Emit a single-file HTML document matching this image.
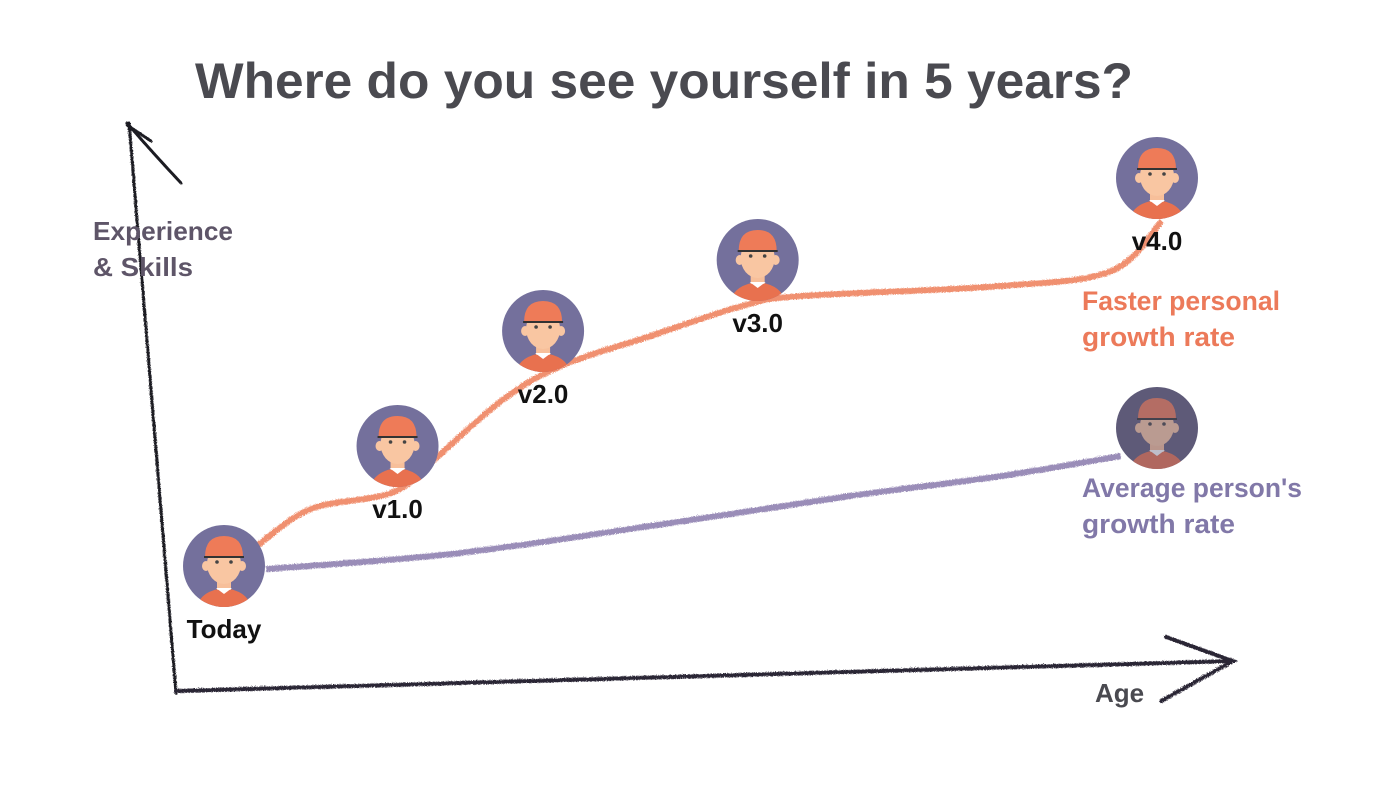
<!DOCTYPE html>
<html><head><meta charset="utf-8"><style>
body{margin:0;background:#fff}
svg{display:block}
text{font-family:"Liberation Sans",sans-serif;font-weight:bold}
</style></head><body>
<svg id="chart" width="1400" height="788" viewBox="0 0 1400 788">
<defs>
<filter id="rough"><feTurbulence baseFrequency="0.9" numOctaves="1" result="n"/><feDisplacementMap in="SourceGraphic" in2="n" scale="3"/></filter>
</defs>
<text x="195" y="98" textLength="938" lengthAdjust="spacingAndGlyphs" font-size="50" fill="#4a4a50">Where do you see yourself in 5 years?</text>
<g stroke="#1a1a22" stroke-width="3" fill="none" stroke-linecap="round" filter="url(#rough)">
<path d="M175 692 L128 122"/><path d="M126 122 Q150 150 180 182 M126 124 L150 140"/>
</g>
<g stroke="#2a2535" stroke-width="4" fill="none" stroke-linecap="round" filter="url(#rough)">
<path d="M175 690 Q700 675 1232 660"/><path d="M1165 636 L1232 660 L1160 700"/>
</g>
<text x="93" y="240" textLength="140" lengthAdjust="spacingAndGlyphs" font-size="26" fill="#5e5568">Experience</text>
<text x="93" y="276" textLength="100" lengthAdjust="spacingAndGlyphs" font-size="26" fill="#5e5568">&amp; Skills</text>
<text x="1095" y="702" font-size="26" fill="#4a4a50">Age</text>
<g id="lines"></g>
<g id="avatars"></g>
<text x="1082" y="310" textLength="198" lengthAdjust="spacingAndGlyphs" font-size="27" fill="#ec7a5a">Faster personal</text>
<text x="1082" y="346" textLength="153" lengthAdjust="spacingAndGlyphs" font-size="27" fill="#ec7a5a">growth rate</text>
<text x="1082" y="497" textLength="220" lengthAdjust="spacingAndGlyphs" font-size="27" fill="#8178a8">Average person's</text>
<text x="1082" y="533" textLength="153" lengthAdjust="spacingAndGlyphs" font-size="27" fill="#8178a8">growth rate</text>
</svg>
<script>
const fastYears=[0.17,0.46,0.89,1.1,1.48,1.8,2.28,2.77,3.09,4.16,4.75,5.02];
const fastSkill=[2.9,3.64,3.96,4.56,5.8,6.5,7.1,7.7,7.9,8.1,8.4,9.4];
const avgYears=[0.22,1.21,2.28,3.35,4.16,4.8];
const avgSkill=[2.44,2.74,3.3,3.9,4.3,4.7];
const milestoneLabels=["Today","v1.0","v2.0","v3.0","v4.0",""];
const milestoneYears=[0,0.93,1.71,2.86,5,5];
const milestoneSkill=[2.48,4.88,7.18,8.6,10.24,5.24];
const NS="http://www.w3.org/2000/svg";
function xS(y){return 224+y*186.6;}
function yS(s){return 690-s*50;}
function smooth(xs,ys){
  const p=xs.map((x,i)=>[xS(x),yS(ys[i])]);
  let d="M"+p[0][0]+" "+p[0][1];
  for(let i=0;i<p.length-1;i++){
    const p0=p[i-1]||p[i],p1=p[i],p2=p[i+1],p3=p[i+2]||p2;
    const c1=[p1[0]+(p2[0]-p0[0])/6,p1[1]+(p2[1]-p0[1])/6];
    const c2=[p2[0]-(p3[0]-p1[0])/6,p2[1]-(p3[1]-p1[1])/6];
    d+=` C${c1[0]} ${c1[1]} ${c2[0]} ${c2[1]} ${p2[0]} ${p2[1]}`;
  }
  return d;
}
const lines=document.getElementById("lines");
const l1=document.createElementNS(NS,"path");


l1.setAttribute("d",smooth(fastYears,fastSkill));
l1.setAttribute("stroke","#f09070");l1.setAttribute("stroke-width","6");l1.setAttribute("fill","none");l1.setAttribute("filter","url(#rough)");
lines.appendChild(l1);
const l2=document.createElementNS(NS,"path");


l2.setAttribute("d",smooth(avgYears,avgSkill));
l2.setAttribute("stroke","#9a8db8");l2.setAttribute("stroke-width","6");l2.setAttribute("fill","none");l2.setAttribute("filter","url(#rough)");
lines.appendChild(l2);
const av=document.getElementById("avatars");
milestoneYears.forEach((yr,i)=>{
  const cx=xS(yr),cy=yS(milestoneSkill[i]);
  const faded=i===5;
  const g=document.createElementNS(NS,"g");
  
  
  g.innerHTML=`<circle cx="${cx}" cy="${cy}" r="41" fill="${faded?'#5e5a78':'#74709c'}"/>
  <clipPath id="c${i}"><circle cx="${cx}" cy="${cy}" r="41"/></clipPath>
  <g clip-path="url(#c${i})" opacity="${faded?0.6:1}">
  <path d="M${cx-28} ${cy+45} Q${cx-26} ${cy+25} ${cx} ${cy+22} Q${cx+26} ${cy+25} ${cx+28} ${cy+45}Z" fill="#e8714f"/>
  <rect x="${cx-7}" y="${cy+10}" width="14" height="14" fill="#f7bf9a"/>
  <path d="M${cx-8} ${cy+22} L${cx} ${cy+28} L${cx+8} ${cy+22}" fill="#fff"/>
  <ellipse cx="${cx}" cy="${cy-2}" rx="17" ry="20" fill="#f9c6a2"/>
  <ellipse cx="${cx-18}" cy="${cy}" rx="4" ry="5" fill="#f9c6a2"/><ellipse cx="${cx+18}" cy="${cy}" rx="4" ry="5" fill="#f9c6a2"/>
  <path d="M${cx-19} ${cy-9} Q${cx-19} ${cy-30} ${cx} ${cy-30} Q${cx+19} ${cy-30} ${cx+19} ${cy-9}Z" fill="#ee7b58"/>
  <line x1="${cx-20}" y1="${cy-9}" x2="${cx+20}" y2="${cy-9}" stroke="#333" stroke-width="2"/>
  <circle cx="${cx-7}" cy="${cy-4}" r="1.8" fill="#444"/><circle cx="${cx+7}" cy="${cy-4}" r="1.8" fill="#444"/>
  </g>`;
  av.appendChild(g);
  if(milestoneLabels[i]){
    const t=document.createElementNS(NS,"text");
    
    
    t.setAttribute("x",cx);t.setAttribute("y",cy+72);t.setAttribute("text-anchor","middle");
    t.setAttribute("font-size","26");t.setAttribute("fill","#111");
    t.textContent=milestoneLabels[i];
    av.appendChild(t);
  }
});
</script>
</body></html>
